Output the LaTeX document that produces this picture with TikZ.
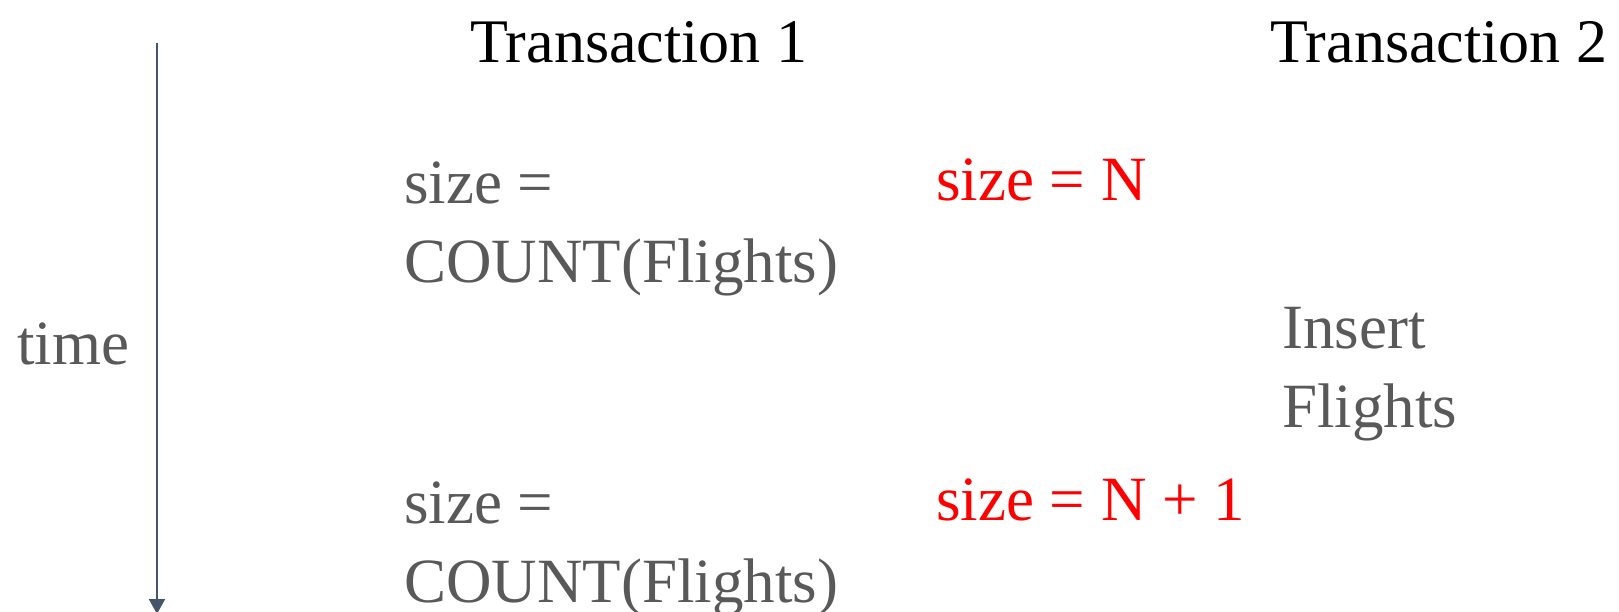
\documentclass[tikz,border=0pt]{standalone}
\usepackage{fontspec}
\setmainfont{Liberation Serif}
\usetikzlibrary{arrows.meta,positioning}
\definecolor{slate}{HTML}{44546A}
\definecolor{ink}{HTML}{595959}
\definecolor{alert}{HTML}{FF0000}
\tikzset{
  headtext/.style={
    font=\fontsize{62}{74}\selectfont, color=black,
    inner sep=0pt, anchor=base west
  },
  steptext/.style={
    font=\fontsize{63}{79}\selectfont, color=#1,
    inner sep=0pt, anchor=base west, align=left
  },
  steptext/.default=ink,
  timearrow/.style={
    -{Triangle[length=15pt,width=16pt]}, line width=2pt, color=slate
  },
}
\begin{document}
\begin{tikzpicture}[x=1pt, y=-1pt]
  \useasboundingbox (0,0) rectangle (1619,611);

  % ── Time axis ────────────────
  \coordinate (t0) at (157,43);
  \coordinate (t1) at (157,614);
  \draw[timearrow] (t0) -- (t1);
  \node[steptext] (time) at (17,364) {time};

  % ── Headers ──────────────────
  \node[headtext] (tx1) at (470,62) {Transaction 1};
  \node[headtext] (tx2) at (1270,62) {Transaction 2};

  % ── Transaction 1 (base = last line) ──
  \node[steptext] (read1) at (404,282) {size =\\COUNT(Flights)};
  \node[steptext=alert] (val1) at (936,200) {size = N};
  \node[steptext] (read2) at (404,602) {size =\\COUNT(Flights)};
  \node[steptext=alert] (val2) at (936,520) {size = N + 1};

  % ── Transaction 2 ────────────
  \node[steptext] (ins) at (1282,427) {Insert\\Flights};
\end{tikzpicture}
\end{document}
